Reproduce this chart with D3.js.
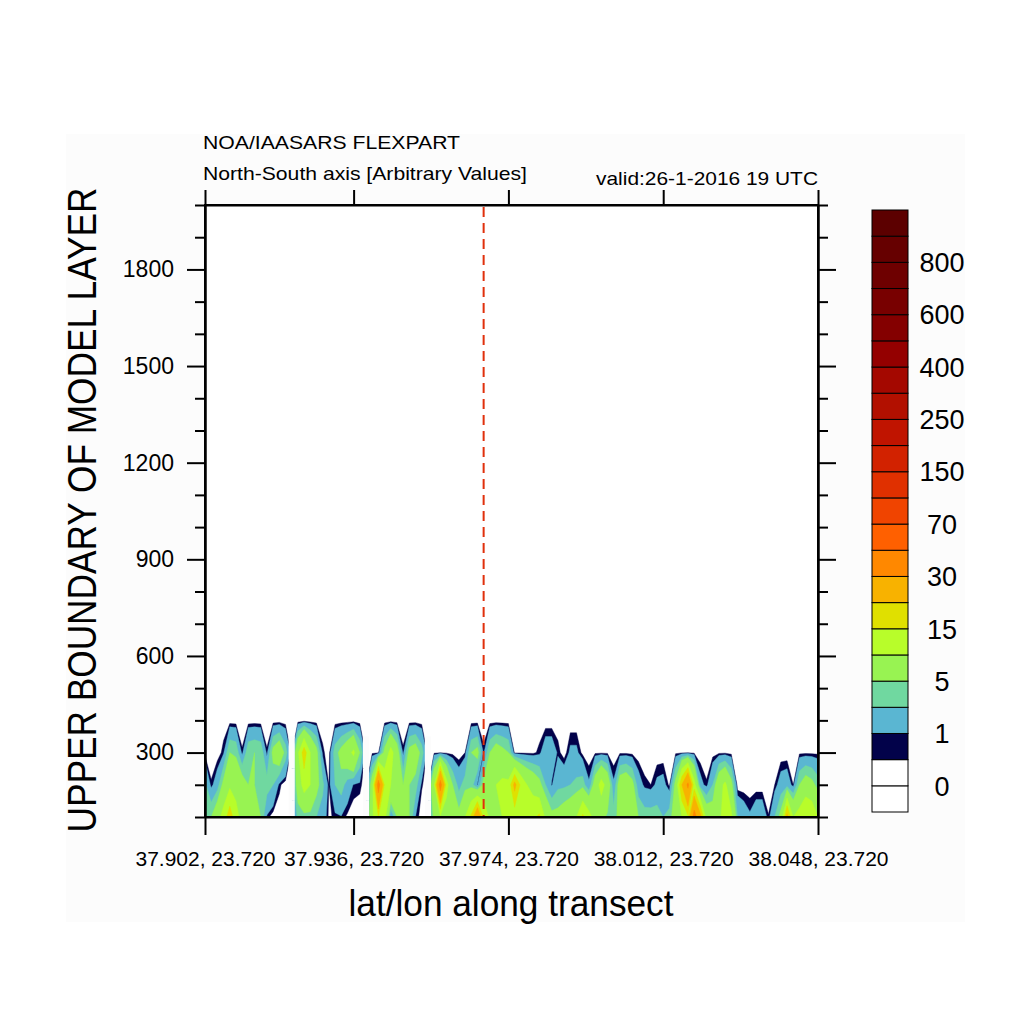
<!DOCTYPE html>
<html><head><meta charset="utf-8">
<script src="https://cdn.jsdelivr.net/npm/d3@7"></script>
<style>
body{margin:0;background:#fff;}
svg{display:block;}
text{font-family:"Liberation Sans", Arial, Helvetica, sans-serif;fill:#000;}
</style>
</head><body>
<svg id="c" width="1024" height="1024"></svg>
<script>
// ---- data ----
// concentration along transect (100 points) at model layer tops 100 m, 200 m, 300 m; null = missing
const conc100 = [4,5,8,12,18,12,8,6,6,5, 0.8,0,0,0,null,3.5,4,4,3,2, 0.3,0.7,0.9,0.3,0,0,null,9,15,12,
  0.9,5,5,5,1,0,null,6,9,7, 5,6,10,16,28,14,9,8,10,11, 12,12,12,14,16,9,6,6,7,8,
  10,16,12,8,6,4.5,4,6,8,7, 5,4,4,4,3,4,7,10,14,35, 22,8,7,9,12,11,3,2,1.2,2.2, 2.2,0.55,3,6,22,10,12,15,14,10];
const conc200 = [3.5,0.6,2,6,9,8,7,5,5,4.5, 4,3,0.7,0,null,7,12,10,6,3.5, 0.5,3,4,2,0.9,0.7,null,7,35,14,
  10,8,5,5,4,0.6,null,10,35,12, 5,2.2,4,4,0.8,6,7,10,11,11, 22,14,10,8,6,3,0.85,2.5,2.6,3,
  3.5,4,1.2,7,12,8,1.2,7,8,6, 1.8,0.7,0.5,1.3,1.5,0.3,6,20,32,12, 1.5,0.6,3,8,11,6,0,0,0,0, 0,0,0.5,1.7,2,0.5,5,7,6,4];
const conc300 = [0.2,0,0,0.8,5,4.5,0.6,4.5,5,4.5, 0.6,6,8,4,null,9,18,10,6,0.7, 0,4,6,8,11,5,null,0.3,0.3,6,
  12,7,0.65,6,7,4,null,0.3,0.3,0.3, 0.2,0,0.5,5,6,0.7,5,7,6,5, 0.3,0.3,0.3,0.3,0.7,2,2,0.8,0,1.3,
  1.3,0.2,0,0.3,0.3,0.3,0,0.3,0.3,0.2, 0,0,0,0,0,0,0.3,0.3,0.3,0.3, 0,0,0.1,0.3,0.3,0.2,0,0,0,0, 0,0,0,0,0,0,0.3,0.3,0.3,0.3];
const layerHeights = [100,200,300,400,500,600,700,800,900,1000,1100,1200,1300,1400,1500,1600,1700,1800,1900,2000];
const xTickIdx = [0,24,49,74,99];
const xTickLabels = ["37.902, 23.720","37.936, 23.720","37.974, 23.720","38.012, 23.720","38.048, 23.720"];
const yMajor = [300,600,900,1200,1500,1800];
const yMinor = [100,200,400,500,700,800,1000,1100,1300,1400,1600,1700,1900,2000];
const levels = [0,0.5,1,3,5,10,15,20,30,50,70,100,150,200,250,300,400,500,600,700,800,900];
const binColors = ["#ffffff","#ffffff","#02024a","#5ab6d2","#70d8a0","#98f352","#b8fd2a","#e0e000","#f8b200",
  "#ff8800","#ff6000","#f04400","#e03000","#d22200","#c01400","#b21000","#a40800","#940000","#840000",
  "#780000","#6e0000","#660000","#5c0000"];
const cbLabels = ["0","1","5","15","30","70","150","250","400","600","800"];
const transectIdx = 45;

// ---- layout ----
const svg = d3.select("#c");
const L = 205, R = 818, T = 205, B = 817;
const x = d3.scaleLinear().domain([0, 99]).range([L, R]);
const y = d3.scaleLinear().domain([100, 2000]).range([B, T]);
const FF = '"Liberation Sans", Arial, sans-serif';

svg.append("rect").attr("x",66).attr("y",134).attr("width",899).attr("height",788).attr("fill","#fcfcfc");

const defs = svg.append("defs");
defs.append("clipPath").attr("id","plotclip").append("rect")
  .attr("x",L).attr("y",T).attr("width",R-L).attr("height",B-T);

const plot = svg.append("g").attr("clip-path","url(#plotclip)");
plot.append("rect").attr("x",L).attr("y",T).attr("width",R-L).attr("height",B-T).attr("fill",binColors[1]);

// grid
const nx = conc100.length, ny = layerHeights.length;
const rows = [conc100, conc200, conc300];
const values = new Array(nx*ny).fill(0);
rows.forEach((r,j)=>r.forEach((v,i)=>{ values[j*nx+i] = (v==null?0:v); }));

const dh = layerHeights[1]-layerHeights[0];
const proj = d3.geoTransform({point:function(cx,cy){
  this.stream.point(x(cx-0.5), y(layerHeights[0] + dh*(cy-0.5)));
}});
const path = d3.geoPath(proj);
const contours = d3.contours().size([nx, ny]).thresholds(levels.slice(1))(values);
plot.selectAll("path.c").data(contours).join("path")
  .attr("class","c")
  .attr("d", path)
  .attr("fill", (d,k)=>binColors[k+2])
  .attr("stroke", (d,k)=>binColors[k+2]).attr("stroke-width",0.4);

// missing cells
const miss = [];
rows.forEach((r,j)=>r.forEach((v,i)=>{ if(v==null) miss.push({i, h:layerHeights[j]}); }));
plot.selectAll("rect.m").data(miss).join("rect").attr("class","m")
  .attr("x", d=>x(d.i-0.5)).attr("width", d=>x(d.i+0.5)-x(d.i-0.5))
  .attr("y", d=>y(d.h+dh/2)).attr("height", d=>y(d.h-dh/2)-y(d.h+dh/2))
  .attr("fill","#fcfcfc");

// transect marker
svg.append("line").attr("x1",x(transectIdx)).attr("x2",x(transectIdx))
  .attr("y1",y(2000)+2).attr("y2",y(100))
  .attr("stroke","#e0300c").attr("stroke-width",2).attr("stroke-dasharray","10,6");

// axes
function styleAxis(g){
  g.selectAll("path.domain").attr("stroke","#000").attr("stroke-width",2);
  g.selectAll(".tick line").attr("stroke","#000").attr("stroke-width",2);
}
const gl = svg.append("g").attr("transform",`translate(${L},0)`)
  .call(d3.axisLeft(y).tickValues(yMajor).tickSize(18).tickSizeOuter(0).tickPadding(13).tickFormat(d3.format("d")));
gl.selectAll("text").attr("font-size",23).attr("font-family",FF).attr("fill","#000");
styleAxis(gl);
const glm = svg.append("g").attr("transform",`translate(${L},0)`)
  .call(d3.axisLeft(y).tickValues(yMinor).tickSize(10).tickSizeOuter(0).tickFormat(""));
styleAxis(glm);
const gr = svg.append("g").attr("transform",`translate(${R},0)`)
  .call(d3.axisRight(y).tickValues(yMajor).tickSize(18).tickSizeOuter(0).tickFormat(""));
styleAxis(gr);
const grm = svg.append("g").attr("transform",`translate(${R},0)`)
  .call(d3.axisRight(y).tickValues(yMinor).tickSize(10).tickSizeOuter(0).tickFormat(""));
styleAxis(grm);
const gb = svg.append("g").attr("transform",`translate(0,${B})`)
  .call(d3.axisBottom(x).tickValues(xTickIdx).tickSize(18).tickSizeOuter(0).tickFormat((d,k)=>xTickLabels[k]));
gb.selectAll("text").attr("font-size",20).attr("font-family",FF)
  .attr("fill","#000").attr("y",49).attr("dy",0)
  .attr("textLength",140).attr("lengthAdjust","spacingAndGlyphs");
styleAxis(gb);
const gt = svg.append("g").attr("transform",`translate(0,${T})`)
  .call(d3.axisTop(x).tickValues(xTickIdx).tickSize(15).tickSizeOuter(0).tickFormat(""));
styleAxis(gt);

// frame
svg.append("rect").attr("x",L).attr("y",T).attr("width",R-L).attr("height",B-T)
  .attr("fill","none").attr("stroke","#000").attr("stroke-width",2);

// titles
svg.append("text").attr("x",203).attr("y",149).attr("font-size",19)
  .attr("textLength",257).attr("lengthAdjust","spacingAndGlyphs").text("NOA/IAASARS FLEXPART");
svg.append("text").attr("x",203).attr("y",180).attr("font-size",19)
  .attr("textLength",324).attr("lengthAdjust","spacingAndGlyphs").text("North-South axis [Arbitrary Values]");
svg.append("text").attr("x",818).attr("y",185).attr("font-size",19).attr("text-anchor","end")
  .attr("textLength",222).attr("lengthAdjust","spacingAndGlyphs").text("valid:26-1-2016 19 UTC");
svg.append("text").attr("x",511).attr("y",916).attr("font-size",37).attr("text-anchor","middle")
  .attr("textLength",325).attr("lengthAdjust","spacingAndGlyphs").text("lat/lon along transect");
svg.append("text").attr("transform","translate(96,510) rotate(-90)").attr("font-size",41)
  .attr("text-anchor","middle").attr("textLength",645).attr("lengthAdjust","spacingAndGlyphs")
  .text("UPPER BOUNDARY OF MODEL LAYER");

// colorbar
const cb = d3.scaleLinear().domain([0, binColors.length]).range([812, 210]);
const cbX = 872, cbW = 36;
svg.selectAll("rect.cb").data(binColors).join("rect").attr("class","cb")
  .attr("x",cbX).attr("width",cbW)
  .attr("y",(d,k)=>cb(k+1)).attr("height",(d,k)=>cb(k)-cb(k+1))
  .attr("fill",d=>d).attr("stroke","#000").attr("stroke-width",1);
svg.selectAll("text.cbl").data(cbLabels).join("text").attr("class","cbl")
  .attr("x",942).attr("y",(d,k)=>cb(1+2*k)).attr("dy","0.36em")
  .attr("text-anchor","middle").attr("font-size",27).text(d=>d);
</script>
</body></html>
